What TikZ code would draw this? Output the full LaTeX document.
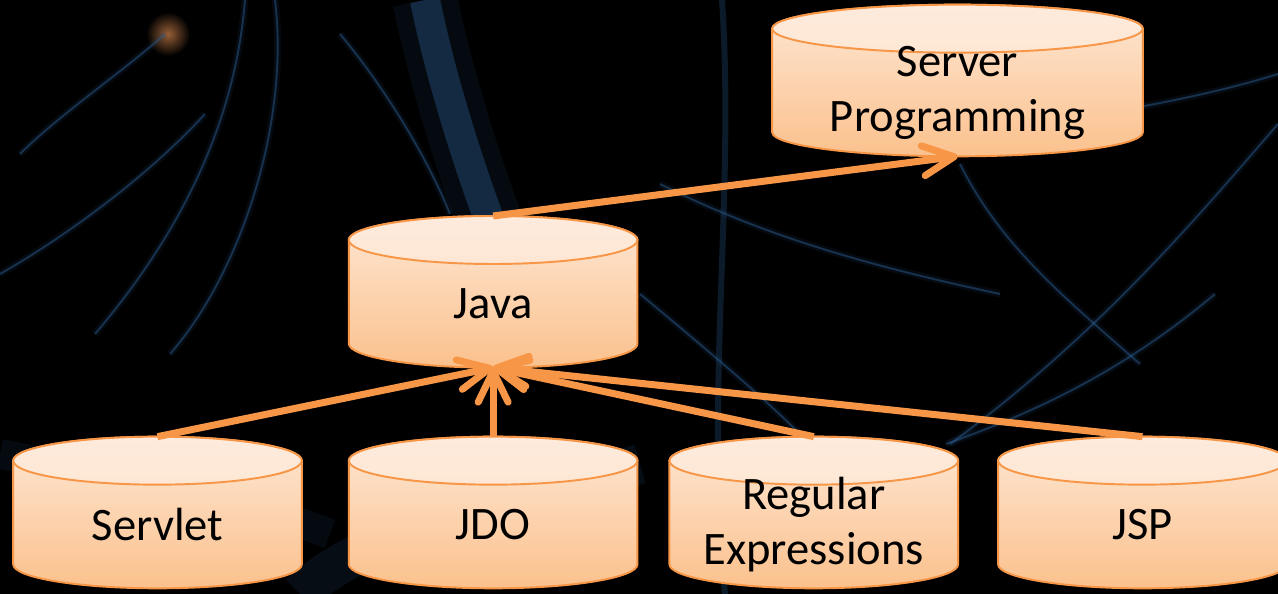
\documentclass[tikz,border=0pt]{standalone}
\usepackage{fontspec}
\setmainfont{Carlito}
\usetikzlibrary{calc, positioning, arrows.meta}
\pgfdeclarelayer{back}
\pgfdeclarelayer{bg}
\pgfsetlayers{back,bg,main}
\definecolor{accent}{HTML}{F79646}
\definecolor{cyltop}{HTML}{FEE7D4}
\definecolor{cylbot}{HTML}{FBC18D}
\definecolor{capfill}{HTML}{FEEBDD}
\definecolor{fibre}{HTML}{2A5A8C}

\begin{document}
\begin{tikzpicture}
  [x=0.02cm, y=0.02cm,
   store/.style={minimum width=5.76cm, minimum height=2.54cm, inner sep=0pt,
                 align=center, font=\fontsize{26.5}{31.3}\selectfont},
   link/.style={draw=accent, line width=4pt,
                -{Straight Barb[length=0.62cm, width=0.6cm, round]}},
   fibre/.style={draw=fibre, line width=1.1pt, opacity=0.5,
                 preaction={draw=fibre, line width=4pt, opacity=0.12}}]

  \useasboundingbox (0,0) rectangle (1278,594);

  % nodes %
  \node[store] (servlet) at (157.5,69.5) {Servlet};
  \node[store, right=0.94cm of servlet] (jdo) {JDO};
  \node[store, right=0.64cm of jdo] (regex) {Regular\\Expressions};
  \node[store, right=0.8cm of regex] (jsp) {JSP};
  \node[store, above=1.86cm of jdo] (java) {Java};
  \node[store, minimum width=7.4cm] (serv) at (957.5,501.5) {Server\\Programming};

  % cylinders %
  \begin{pgfonlayer}{bg}
    \foreach \db in {serv,java,servlet,jdo,regex,jsp} {
      \path let \p1=(\db.north west), \p2=(\db.south east), \n1={(\x2-\x1)/2} in
        [top color=cyltop, bottom color=cylbot, draw=accent, line width=1.1pt]
        (\x1,\y1) -- (\x1,\y2+0.48cm)
        arc[start angle=180, end angle=360, x radius=\n1, y radius=0.48cm]
        -- (\x2,\y1)
        arc[start angle=0, end angle=180, x radius=\n1, y radius=0.48cm] -- cycle;
      \path let \p1=(\db.north west), \p2=(\db.north east), \n1={(\x2-\x1)/2} in
        [top color=capfill, bottom color=cyltop, draw=accent, line width=1.1pt]
        (\db.north) ellipse [x radius=\n1, y radius=0.48cm];
    }
  \end{pgfonlayer}

  % background %
  \begin{pgfonlayer}{back}
    \fill[black] (0,0) rectangle (1278,594);
    \shade[inner color={rgb,255:red,150;green,95;blue,55}, outer color=black]
      (168,560) circle (22);
    \draw[draw=fibre, line width=1.3cm, opacity=0.12]
      (425,594) .. controls (440,520) and (465,440) .. (490,372);
    \draw[draw=fibre, line width=0.6cm, opacity=0.4]
      (425,594) .. controls (440,520) and (465,440) .. (490,372);
    \draw[draw=fibre, line width=0.12cm, opacity=0.3]
      (722,594) .. controls (735,400) and (705,200) .. (725,0);
    \draw[fibre] (245,594) .. controls (235,470) and (180,360) .. (95,260);
    \draw[fibre] (275,594) .. controls (290,470) and (240,320) .. (170,240);
    \draw[fibre] (165,560) .. controls (120,520) and (60,480) .. (20,440);
    \draw[fibre] (205,480) .. controls (150,420) and (70,360) .. (0,320);
    \draw[fibre] (340,560) .. controls (390,500) and (430,430) .. (450,380);
    \draw[fibre] (1278,470) .. controls (1200,380) and (1100,260) .. (950,150);
    \draw[fibre] (1215,300) .. controls (1120,220) and (1030,180) .. (946,150);
    \draw[fibre] (1278,520) .. controls (1150,480) and (1000,470) .. (900,440);
    \draw[fibre] (960,430) .. controls (1000,350) and (1060,300) .. (1140,230);
    \draw[fibre] (660,410) .. controls (760,360) and (860,330) .. (1000,300);
    \draw[fibre] (640,300) .. controls (700,250) and (760,200) .. (800,160);
    \draw[draw=fibre, line width=0.8cm, opacity=0.15]
      (300,0) .. controls (360,60) and (500,90) .. (640,130);
    \draw[draw=fibre, line width=0.6cm, opacity=0.12]
      (0,140) .. controls (100,120) and (200,110) .. (330,60);
  \end{pgfonlayer}

  % edges %
  \draw[link] ([yshift=0.48cm]java.north) -- (serv.south);
  \draw[link] ([yshift=0.48cm]servlet.north) -- (java.south);
  \draw[link] ([yshift=0.48cm]jdo.north) -- (java.south);
  \draw[link] ([yshift=0.48cm]regex.north) -- (java.south);
  \draw[link] ([yshift=0.48cm]jsp.north) -- (java.south);
\end{tikzpicture}
\end{document}
